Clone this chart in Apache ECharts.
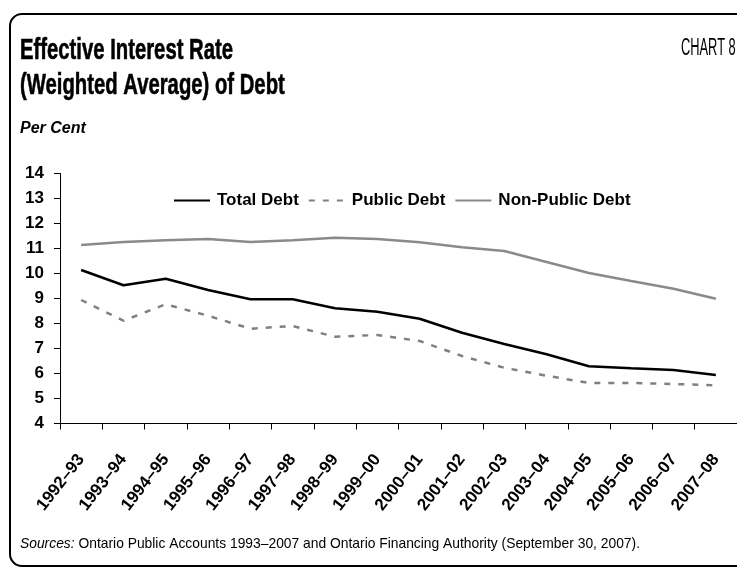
<!DOCTYPE html>
<html>
<head>
<meta charset="utf-8">
<script src="https://cdn.jsdelivr.net/npm/echarts@6/dist/echarts.min.js"></script>
<style>
html,body{margin:0;padding:0;background:#fff;overflow:hidden;}
#chart{width:737px;height:568px;}
</style>
</head>
<body>
<div id="chart"></div>
<script>
const categories = ['1992–93','1993–94','1994–95','1995–96','1996–97','1997–98','1998–99','1999–00','2000–01','2001–02','2002–03','2003–04','2004–05','2005–06','2006–07','2007–08'];
const totalDebt = [10.14, 9.53, 9.79, 9.34, 8.97, 8.97, 8.61, 8.47, 8.19, 7.63, 7.18, 6.77, 6.29, 6.21, 6.14, 5.94];
const publicDebt = [8.94, 8.11, 8.77, 8.31, 7.79, 7.90, 7.47, 7.54, 7.30, 6.70, 6.23, 5.91, 5.62, 5.62, 5.58, 5.53];
const nonPublicDebt = [11.14, 11.26, 11.33, 11.38, 11.26, 11.33, 11.43, 11.38, 11.25, 11.05, 10.90, 10.46, 10.02, 9.70, 9.39, 8.99];
const seriesNames = ['Total Debt', 'Public Debt', 'Non-Public Debt'];
const titleLine1 = 'Effective Interest Rate';
const titleLine2 = '(Weighted Average) of Debt';
const chartTag = 'CHART 8';
const unitLabel = 'Per Cent';
const sourceLabel = 'Sources:';
const sourceText = ' Ontario Public Accounts 1993–2007 and Ontario Financing Authority (September 30, 2007).';

const FONT = '"Liberation Sans", Arial, sans-serif';
const mctx = document.createElement('canvas').getContext('2d');
function textWidth(t, font) { mctx.font = font; return mctx.measureText(t).width; }
function fit(t, font, target) { return target / textWidth(t, font); }

const titleFont = 'bold 29px ' + FONT;
const titleScale = fit(titleLine1, titleFont, 213);
const tagFont = '23px ' + FONT;
const tagScale = fit('CHART', tagFont, 44);
const srcFont = '15px ' + FONT;
const srcScale = fit(sourceLabel + sourceText, srcFont, 620);

const chart = echarts.init(document.getElementById('chart'), null, {renderer: 'canvas'});
chart.setOption({
  animation: false,
  backgroundColor: '#fff',
  graphic: [
    {type: 'rect', x: 10, y: 14, shape: {x: 0, y: 0, width: 800, height: 552, r: 12},
     style: {fill: 'none', stroke: '#000', lineWidth: 2}, silent: true},
    {type: 'text', x: 20, y: 33, scaleX: titleScale, style: {text: titleLine1 + '\n' + titleLine2, font: titleFont, fill: '#000', stroke: '#000', lineWidth: 0.6, lineHeight: 35, verticalAlign: 'top'}},
    {type: 'text', x: 681, y: 37, scaleX: tagScale, style: {text: chartTag, font: tagFont, fill: '#000', verticalAlign: 'top'}},
    {type: 'text', x: 20, y: 121, style: {text: unitLabel, font: 'italic bold 16px ' + FONT, fill: '#000', verticalAlign: 'top'}},
    {type: 'text', x: 20, y: 536, scaleX: srcScale, style: {
      text: '{i|' + sourceLabel + '}' + sourceText,
      font: srcFont, fill: '#000', verticalAlign: 'top',
      rich: {i: {font: 'italic 15px ' + FONT, fill: '#000'}}}}
  ],
  legend: {
    left: 173, top: 192, padding: 0,
    itemWidth: 36, itemHeight: 14, itemGap: 9,
    data: seriesNames,
    itemStyle: {opacity: 0},
    textStyle: {fontFamily: FONT, fontWeight: 'bold', fontSize: 17, color: '#000', padding: [0, 0, 0, 2]}
  },
  grid: {left: 60, top: 173.5, width: 680, height: 250, containLabel: false},
  xAxis: {
    type: 'category', data: categories, boundaryGap: true,
    axisLine: {lineStyle: {color: '#000', width: 1}},
    axisTick: {show: true, interval: 0, length: 6, inside: false, lineStyle: {color: '#000'}},
    axisLabel: {interval: 0, rotate: 52, margin: 33, fontFamily: FONT, fontWeight: 'bold', fontSize: 17, color: '#000'}
  },
  yAxis: {
    type: 'value', min: 4, max: 14, interval: 1,
    splitLine: {show: false},
    axisLine: {show: true, lineStyle: {color: '#000', width: 1}},
    axisTick: {show: true, length: 6, lineStyle: {color: '#000'}},
    axisLabel: {margin: 16, fontFamily: FONT, fontWeight: 'bold', fontSize: 17, color: '#000'}
  },
  series: [
    {name: seriesNames[0], type: 'line', data: totalDebt, symbol: 'none', lineStyle: {color: '#000', width: 2.5}, itemStyle: {color: '#000'}},
    {name: seriesNames[1], type: 'line', data: publicDebt, symbol: 'none', lineStyle: {color: '#808080', width: 2.5, type: [6, 8]}, itemStyle: {color: '#808080'}},
    {name: seriesNames[2], type: 'line', data: nonPublicDebt, symbol: 'none', lineStyle: {color: '#8a8a8a', width: 2.5}, itemStyle: {color: '#8a8a8a'}}
  ]
});
</script>
</body>
</html>
